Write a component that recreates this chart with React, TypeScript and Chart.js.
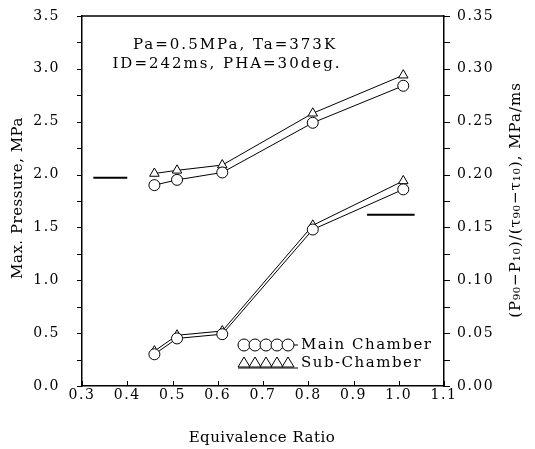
import React, { useEffect, useRef } from 'react';
import { Chart, registerables } from 'chart.js';
Chart.register(...registerables);

const equivalenceRatio = [0.46, 0.51, 0.61, 0.81, 1.01];
const mainMaxPressure = [1.9, 1.95, 2.02, 2.49, 2.84];
const subMaxPressure = [2.01, 2.04, 2.09, 2.58, 2.94];
const mainRate = [0.03, 0.045, 0.049, 0.148, 0.186];
const subRate = [0.033, 0.048, 0.052, 0.152, 0.194];
const leftRefX = [0.325, 0.4];
const leftRefY = 1.97;
const rightRefX = [0.93, 1.035];
const rightRefY = 0.162;

const annotationLines = ['Pa=0.5MPa, Ta=373K', 'ID=242ms, PHA=30deg.'];
const legendLabels = ['Main Chamber', 'Sub-Chamber'];
const xTitle = 'Equivalence Ratio';
const yTitle = 'Max. Pressure, MPa';
const y1Title = '(P₉₀−P₁₀)/(τ₉₀−τ₁₀), MPa/ms';

const FONT = "'DejaVu Serif', serif";

const toPts = (ys: number[]) => equivalenceRatio.map((x, i) => ({ x, y: ys[i] }));

const isMultiple = (v: number, step: number) => Math.abs(v / step - Math.round(v / step)) < 1e-6;

export default function App() {
  const ref = useRef<HTMLCanvasElement | null>(null);
  useEffect(() => {
    document.body.style.margin = '0';
    const canvas = ref.current!;
    const seriesStyle = (style: string) => ({
      borderColor: '#000',
      borderWidth: 1,
      pointStyle: style,
      pointRadius: 5.5,
      pointBackgroundColor: '#fff',
      pointBorderColor: '#000',
      pointBorderWidth: 1,
      fill: false,
      tension: 0,
    });
    const textPlugin = {
      id: 'texts',
      beforeDraw(chart: any) {
        chart.ctx.letterSpacing = '1.5px';
      },
      afterDraw(chart: any) {
        const ctx = chart.ctx as CanvasRenderingContext2D;
        const a = chart.chartArea;
        ctx.save();
        ctx.strokeStyle = '#000';
        ctx.lineWidth = 1.5;
        ctx.beginPath();
        ctx.moveTo(a.left, a.top);
        ctx.lineTo(a.right, a.top);
        ctx.stroke();
        // tick marks
        const xs = chart.scales.x;
        ctx.lineWidth = 1;
        xs.ticks.forEach((t: any) => {
          const px = Math.round(xs.getPixelForValue(t.value)) + 0.5;
          ctx.beginPath();
          ctx.moveTo(px, a.bottom);
          ctx.lineTo(px, a.bottom - 5);
          ctx.stroke();
        });
        const ys = chart.scales.y;
        ys.ticks.forEach((t: any) => {
          const py = Math.round(ys.getPixelForValue(t.value)) + 0.5;
          ctx.beginPath();
          ctx.moveTo(a.left, py);
          ctx.lineTo(a.left - 5, py);
          ctx.stroke();
        });
        const y1s = chart.scales.y1;
        y1s.ticks.forEach((t: any) => {
          const py = Math.round(y1s.getPixelForValue(t.value)) + 0.5;
          ctx.beginPath();
          ctx.moveTo(a.right, py);
          ctx.lineTo(a.right + 6, py);
          ctx.stroke();
        });
        ctx.fillStyle = '#000';
        (ctx as any).letterSpacing = '0.5px';
        ctx.font = `15px ${FONT}`;
        ctx.textAlign = 'center';
        ctx.textBaseline = 'middle';
        ctx.fillText(xTitle, 262, 438);
        ctx.save();
        ctx.translate(18, 198);
        ctx.rotate(-Math.PI / 2);
        ctx.fillText(yTitle, 0, 0);
        ctx.restore();
        (ctx as any).letterSpacing = '1px';
        ctx.save();
        ctx.translate(516, 200);
        ctx.rotate(-Math.PI / 2);
        ctx.fillText(y1Title, 0, 0);
        ctx.restore();
        (ctx as any).letterSpacing = '2px';
        ctx.font = `15px ${FONT}`;
        ctx.fillText(annotationLines[0], 235, 45);
        ctx.fillText(annotationLines[1], 227, 64);
        // legend
        ctx.textAlign = 'left';
        (ctx as any).letterSpacing = '1.5px';
        ctx.fillText(legendLabels[0], 301, 345);
        ctx.fillText(legendLabels[1], 301, 363);
        ctx.lineWidth = 1;
        ctx.beginPath();
        ctx.moveTo(238, 345);
        ctx.lineTo(298, 345);
        ctx.moveTo(238, 368);
        ctx.lineTo(298, 368);
        ctx.stroke();
        ctx.fillStyle = '#fff';
        for (let i = 0; i < 5; i++) {
          const cx = 244 + i * 11;
          ctx.beginPath();
          ctx.arc(cx, 345, 6, 0, Math.PI * 2);
          ctx.fill();
          ctx.stroke();
        }
        for (let i = 0; i < 5; i++) {
          const cx = 244 + i * 11;
          ctx.beginPath();
          ctx.moveTo(cx - 6, 367);
          ctx.lineTo(cx, 357);
          ctx.lineTo(cx + 6, 367);
          ctx.closePath();
          ctx.fill();
          ctx.stroke();
        }
        ctx.restore();
      },
    };
    const tickFont = { family: FONT, size: 14 };
    const hidden = 'rgba(0,0,0,0)';
    const chart = new Chart(canvas, {
      type: 'line',
      data: {
        datasets: [
          { label: 'Main Chamber Pmax', data: toPts(mainMaxPressure), yAxisID: 'y', ...seriesStyle('circle') },
          { label: 'Sub-Chamber Pmax', data: toPts(subMaxPressure), yAxisID: 'y', ...seriesStyle('triangle') },
          { label: 'Main Chamber rate', data: toPts(mainRate), yAxisID: 'y1', ...seriesStyle('circle') },
          { label: 'Sub-Chamber rate', data: toPts(subRate), yAxisID: 'y1', ...seriesStyle('triangle') },
          {
            label: 'left ref',
            data: leftRefX.map((x) => ({ x, y: leftRefY })),
            yAxisID: 'y',
            borderColor: '#000',
            borderWidth: 2,
            pointRadius: 0,
          },
          {
            label: 'right ref',
            data: rightRefX.map((x) => ({ x, y: rightRefY })),
            yAxisID: 'y1',
            borderColor: '#000',
            borderWidth: 2,
            pointRadius: 0,
          },
        ] as any,
      },
      options: {
        responsive: false,
        animation: false,
        layout: { padding: { top: 16, left: 0, right: 0, bottom: 0 } },
        plugins: { legend: { display: false }, tooltip: { enabled: false } },
        scales: {
          x: {
            type: 'linear',
            min: 0.3,
            max: 1.1,
            ticks: {
              stepSize: 0.1,
              color: '#000',
              font: tickFont,
              padding: 1,
              callback: (v: any) => Number(v).toFixed(1),
            },
            grid: { drawOnChartArea: false, drawTicks: false, color: '#000' },
            border: { color: '#000', width: 1.5 },
            afterFit: (s: any) => {
              s.height = 63;
            },
          },
          y: {
            position: 'left',
            min: 0,
            max: 3.5,
            ticks: {
              stepSize: 0.25,
              color: '#000',
              font: tickFont,
              padding: 3,
              callback: (v: any) => (isMultiple(Number(v), 0.5) ? Number(v).toFixed(1) : ''),
            },
            grid: { drawOnChartArea: false, tickLength: 19, tickColor: hidden, color: hidden },
            border: { color: '#000', width: 1.5 },
            afterFit: (s: any) => {
              s.width = 82;
            },
          },
          y1: {
            position: 'right',
            min: 0,
            max: 0.35,
            ticks: {
              stepSize: 0.025,
              color: '#000',
              font: tickFont,
              padding: 2,
              callback: (v: any) => (isMultiple(Number(v), 0.05) ? Number(v).toFixed(2) : ''),
            },
            grid: { drawOnChartArea: false, tickLength: 11, tickColor: hidden, color: hidden },
            border: { color: '#000', width: 1.5 },
            afterFit: (s: any) => {
              s.width = 91;
            },
          },
        },
      } as any,
      plugins: [textPlugin],
    });
    return () => chart.destroy();
  }, []);
  return (
    <div style={{ width: 535, height: 449, background: '#fff' }}>
      <canvas ref={ref} width={535} height={449} style={{ display: 'block' }} />
    </div>
  );
}
